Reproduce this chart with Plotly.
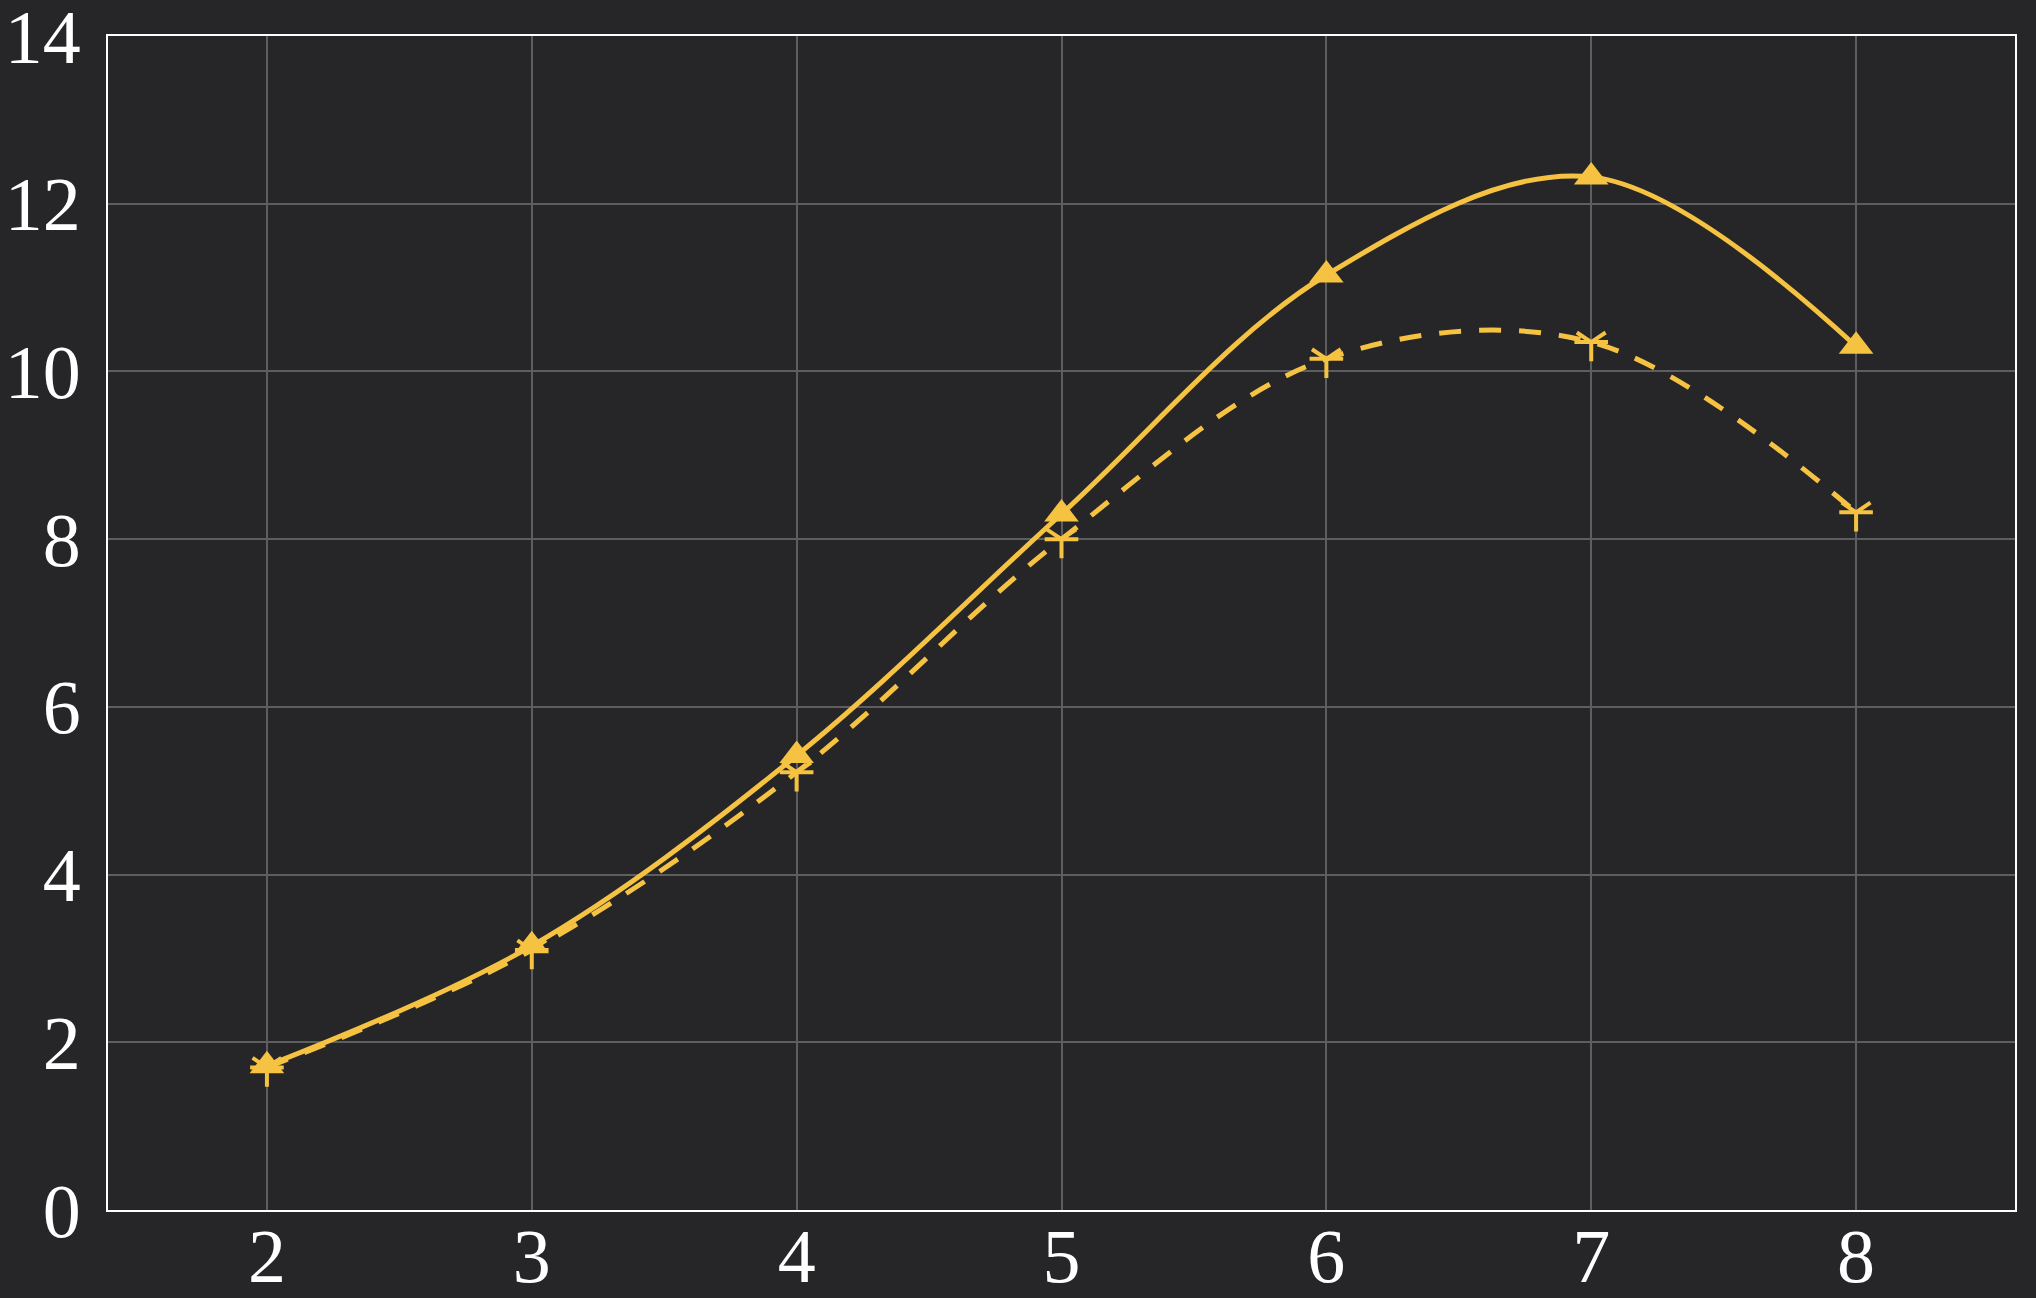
import plotly.graph_objects as go

# data
x_vals = [2, 3, 4, 5, 6, 7, 8]
solid_vals = [1.72, 3.15, 5.42, 8.3, 11.15, 12.32, 10.3]
dashed_vals = [1.7, 3.1, 5.22, 8.0, 10.15, 10.35, 8.32]
x_ticks = [2, 3, 4, 5, 6, 7, 8]
y_ticks = [0, 2, 4, 6, 8, 10, 12, 14]

line_color = "#F5C242"
bg_color = "#262628"
grid_color = "#5E5E60"

fig = go.Figure()

# dashed series, 5-arm star made of two overlaid open symbols
fig.add_trace(go.Scatter(
    x=x_vals, y=dashed_vals,
    mode="lines+markers",
    line=dict(color=line_color, width=5, dash="22px,18px", shape="spline"),
    marker=dict(symbol="y-down-open", size=24, color=line_color,
                line=dict(color=line_color, width=4)),
    showlegend=False,
))
fig.add_trace(go.Scatter(
    x=x_vals, y=dashed_vals,
    mode="markers",
    marker=dict(symbol="line-ew-open", size=24, color=line_color,
                line=dict(color=line_color, width=4)),
    showlegend=False,
))

# solid series with filled triangles
fig.add_trace(go.Scatter(
    x=x_vals, y=solid_vals,
    mode="lines+markers",
    line=dict(color=line_color, width=5, shape="spline"),
    marker=dict(symbol="triangle-up", size=30, color=line_color),
    showlegend=False,
))

axis_common = dict(
    showgrid=True, gridcolor=grid_color, gridwidth=2,
    showline=True, linecolor="white", linewidth=2, mirror=True,
    ticks="", zeroline=False, automargin=False,
    ticklabeloverflow="allow",
    tickfont=dict(family="Liberation Serif", size=76, color="white"),
)

fig.update_xaxes(range=[1.4, 8.6], tickvals=x_ticks, ticklabelstandoff=-21, **axis_common)
fig.update_yaxes(range=[0, 14], tickvals=y_ticks, ticklabelstandoff=10, **axis_common)

fig.update_layout(
    width=2036, height=1298,
    paper_bgcolor=bg_color, plot_bgcolor=bg_color,
    margin=dict(l=108, r=21, t=36, b=88),
)

# drop the browser's default page margin so the figure sits at the corner
fig.write_html(
    "out.html",
    config={"displayModeBar": False},
    post_script="document.body.style.margin='0';document.body.style.background='%s';" % bg_color,
)
